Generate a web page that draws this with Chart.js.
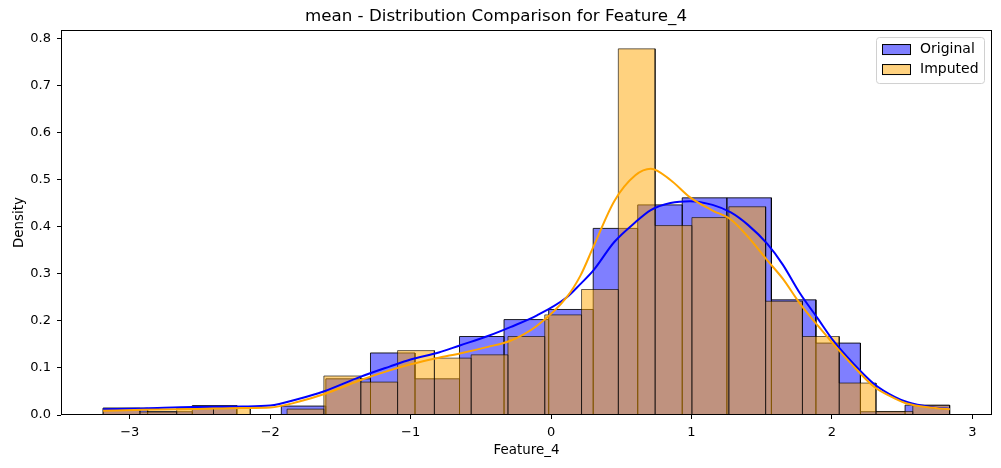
<!DOCTYPE html>
<html lang="en">
<head>
  <meta charset="UTF-8" />
  <title>mean - Distribution Comparison for Feature_4</title>
  <script src="https://cdn.jsdelivr.net/npm/chart.js"></script>
  <style>
    html, body { margin: 0; padding: 0; background: #fff; }
    canvas { display: block; }
  </style>
</head>
<body>

  <canvas id="distChart" width="1001" height="468"></canvas>

  <script>
    // histogram bins (density)
    const origEdges = [-3.190, -2.873, -2.555, -2.238, -1.921, -1.604, -1.286, -0.969, -0.652, -0.335,
                       -0.017, 0.300, 0.617, 0.934, 1.252, 1.569, 1.886, 2.203, 2.521, 2.838];
    const origDensity = [0.0145, 0.007, 0.020, 0, 0.019, 0.077, 0.132, 0.077, 0.167, 0.203,
                         0.2245, 0.397, 0.447, 0.462, 0.462, 0.245, 0.153, 0.007, 0.021];

    const impEdges = [-3.190, -2.928, -2.666, -2.404, -2.142, -1.880, -1.618, -1.355, -1.093, -0.831,
                      -0.569, -0.307, -0.045, 0.217, 0.479, 0.741, 1.003, 1.266, 1.528, 1.790,
                      2.052, 2.314, 2.576, 2.838];
    const impDensity = [0.0145, 0.0065, 0.0145, 0.0145, 0, 0.0125, 0.083, 0.070, 0.137, 0.121,
                        0.128, 0.167, 0.213, 0.267, 0.779, 0.403, 0.420, 0.443, 0.242, 0.167,
                        0.068, 0.0075, 0.020];

    // kde curves
    const kdeX = [-3.19, -2.9, -2.55, -2.2, -2.0, -1.8, -1.62, -1.36, -1.15, -1.0,
                  -0.8, -0.65, -0.45, -0.29, -0.1, 0.11, 0.21, 0.30, 0.45, 0.6,
                  0.71, 0.85, 0.99, 1.15, 1.28, 1.4, 1.54, 1.65, 1.77, 1.9,
                  2.01, 2.15, 2.3, 2.45, 2.54, 2.7, 2.84];
    const origKde = [0.012, 0.014, 0.017, 0.018, 0.020, 0.034, 0.050, 0.081, 0.103, 0.118,
                     0.133, 0.148, 0.168, 0.187, 0.212, 0.250, 0.279, 0.307, 0.368, 0.410,
                     0.436, 0.451, 0.455, 0.447, 0.431, 0.405, 0.364, 0.320, 0.260, 0.205,
                     0.158, 0.110, 0.066, 0.038, 0.027, 0.017, 0.013];
    const impKde = [0.009, 0.011, 0.0125, 0.015, 0.016, 0.028, 0.044, 0.074, 0.095, 0.108,
                    0.122, 0.131, 0.145, 0.158, 0.190, 0.250, 0.297, 0.357, 0.455, 0.510,
                    0.524, 0.500, 0.463, 0.435, 0.416, 0.380, 0.329, 0.290, 0.238, 0.190,
                    0.1515, 0.105, 0.060, 0.035, 0.024, 0.016, 0.012];

    const xTicks = [-3, -2, -1, 0, 1, 2, 3];
    const legendOrder = ['Original', 'Imputed'];

    const FONT = "'DejaVu Sans', sans-serif";

    // trace every bin as up / across / down so each bar keeps its own edges
    function histTrace(edges, heights) {
      const pts = [{ x: edges[0], y: 0 }];
      heights.forEach((h, i) => {
        pts.push({ x: edges[i], y: h });
        pts.push({ x: edges[i + 1], y: h });
        pts.push({ x: edges[i + 1], y: 0 });
      });
      return pts;
    }

    const spines = {
      id: 'spines',
      afterDatasetsDraw(chart) {
        const { ctx, chartArea: a } = chart;
        ctx.save();
        ctx.strokeStyle = '#000';
        ctx.lineWidth = 1;
        ctx.strokeRect(Math.round(a.left) + 0.5, Math.round(a.top) + 0.5,
                       Math.round(a.right - a.left) - 1, Math.round(a.bottom - a.top) - 1);
        ctx.restore();
      }
    };

    // matplotlib style legend inside the upper right corner
    const boxLegend = {
      id: 'boxLegend',
      afterDraw(chart) {
        const { ctx, chartArea: a } = chart;
        const items = legendOrder.map(name => chart.data.datasets.find(ds => ds.label === name));
        const w = 108, h = 46;
        const x0 = a.right - 8 - w, y0 = a.top + 7;
        ctx.save();
        ctx.beginPath();
        ctx.roundRect(x0 + 0.5, y0 + 0.5, w, h, 3);
        ctx.fillStyle = 'rgba(255,255,255,0.8)';
        ctx.fill();
        ctx.strokeStyle = '#d0d0d0';
        ctx.lineWidth = 1;
        ctx.stroke();
        ctx.font = '14px ' + FONT;
        ctx.textBaseline = 'middle';
        items.forEach((ds, i) => {
          const y = y0 + 7 + i * 20;
          ctx.fillStyle = ds.backgroundColor;
          ctx.fillRect(x0 + 6, y, 28, 10);
          ctx.strokeStyle = '#000';
          ctx.strokeRect(x0 + 6.5, y + 0.5, 28, 10);
          ctx.fillStyle = '#000';
          ctx.fillText(ds.label, x0 + 44, y + 5);
        });
        ctx.restore();
      }
    };

    const ctx = document.getElementById('distChart').getContext('2d');

    new Chart(ctx, {
      type: 'line',
      data: {
        datasets: [
          {
            label: 'Imputed KDE',
            data: kdeX.map((x, i) => ({ x: x, y: impKde[i] })),
            borderColor: 'orange',
            borderWidth: 2,
            pointRadius: 0,
            cubicInterpolationMode: 'monotone',
            fill: false,
            order: 0
          },
          {
            label: 'Original KDE',
            data: kdeX.map((x, i) => ({ x: x, y: origKde[i] })),
            borderColor: 'blue',
            borderWidth: 2,
            pointRadius: 0,
            cubicInterpolationMode: 'monotone',
            fill: false,
            order: 1
          },
          {
            label: 'Imputed',
            data: histTrace(impEdges, impDensity),
            borderColor: 'rgba(0,0,0,0.6)',
            backgroundColor: 'rgba(255,165,0,0.5)',
            borderWidth: 1,
            pointRadius: 0,
            tension: 0,
            fill: 'origin',
            order: 2
          },
          {
            label: 'Original',
            data: histTrace(origEdges, origDensity),
            borderColor: 'rgba(0,0,0,0.85)',
            backgroundColor: 'rgba(0,0,255,0.5)',
            borderWidth: 1,
            pointRadius: 0,
            tension: 0,
            fill: 'origin',
            order: 3
          }
        ]
      },
      options: {
        responsive: false,
        animation: false,
        events: [],
        layout: { padding: { left: 0, right: 9, top: 0, bottom: 0 } },
        plugins: {
          legend: { display: false },
          tooltip: { enabled: false },
          title: {
            display: true,
            text: 'mean - Distribution Comparison for Feature_4',
            color: '#000',
            font: { family: FONT, size: 16.7, weight: 'normal' },
            padding: { top: 7, bottom: 3 }
          }
        },
        scales: {
          x: {
            type: 'linear',
            min: -3.49,
            max: 3.14,
            afterFit: scale => { scale.height = 53; },
            afterBuildTicks: scale => { scale.ticks = xTicks.map(v => ({ value: v })); },
            grid: { display: true, drawOnChartArea: false, drawTicks: true, tickLength: 4, color: '#000' },
            border: { display: false },
            ticks: {
              color: '#000',
              padding: 6,
              font: { family: FONT, size: 13 },
              callback: v => (v < 0 ? '\u2212' + Math.abs(v) : String(v))
            },
            title: {
              display: true,
              text: 'Feature_4',
              color: '#000',
              font: { family: FONT, size: 13.4 },
              padding: { top: 0, bottom: 9 }
            }
          },
          y: {
            min: 0,
            max: 0.819,
            afterFit: scale => { scale.width = 61; },
            grid: { display: true, drawOnChartArea: false, drawTicks: true, tickLength: 4, color: '#000' },
            border: { display: false },
            ticks: {
              stepSize: 0.1,
              includeBounds: false,
              color: '#000',
              padding: 6,
              font: { family: FONT, size: 13 },
              callback: v => v.toFixed(1)
            },
            title: {
              display: true,
              text: 'Density',
              color: '#000',
              font: { family: FONT, size: 13.4 },
              padding: { top: 11, bottom: 0 }
            }
          }
        }
      },
      plugins: [spines, boxLegend]
    });
  </script>
</body>
</html>
